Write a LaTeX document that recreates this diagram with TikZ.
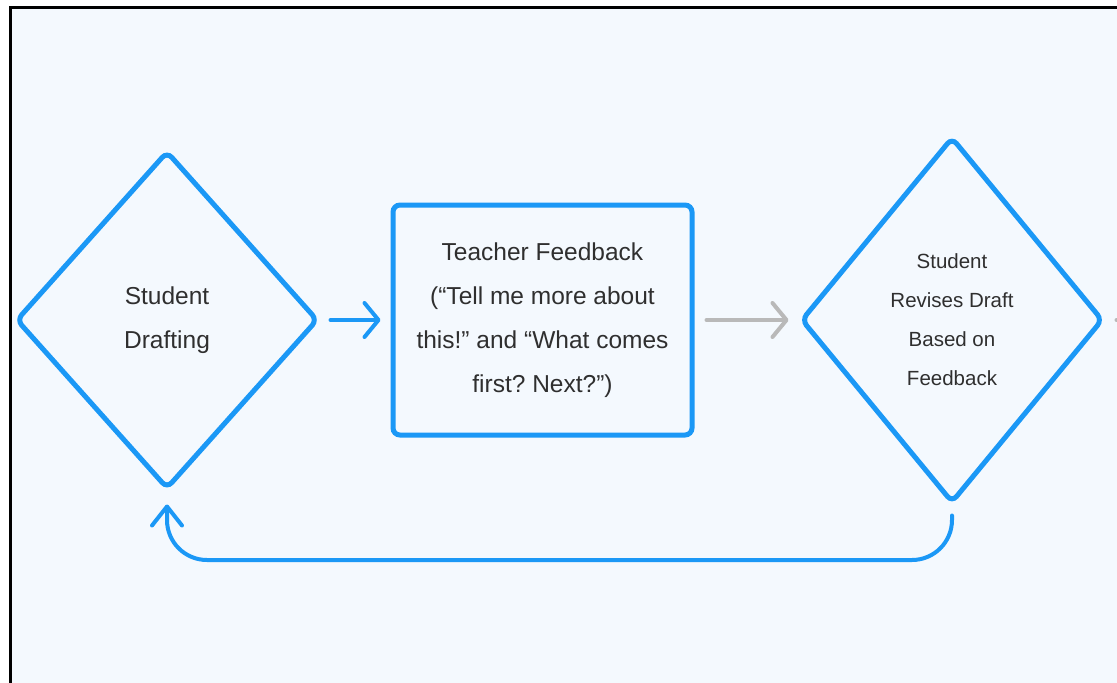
\documentclass[tikz,border=0pt]{standalone}
\usepackage{fontspec}
\setmainfont{Liberation Sans}
\usepackage{tikz}
\usetikzlibrary{arrows.meta}
\usetikzlibrary{shapes.geometric,positioning}
\frenchspacing

\definecolor{flowblue}{HTML}{1B98F6}
\definecolor{flowgray}{HTML}{B9B9B9}
\definecolor{paper}{HTML}{F4F9FE}
\definecolor{ink}{HTML}{2F2F2F}

\tikzset{
    stepdiamond/.style={diamond, draw=flowblue, line width=5pt, rounded corners=7pt,
        inner sep=0pt, align=center, text=ink},
    stepbox/.style={rectangle, draw=flowblue, line width=5pt, rounded corners=7pt,
        inner sep=0pt, align=center, text=ink,
        minimum width=299pt, minimum height=230pt},
    flow/.style={line width=4pt, line cap=round,
        -{Straight Barb[length=14pt,width=34pt,round]}},
}

\begin{document}
\begin{tikzpicture}[x=1pt,y=-1pt]
        \useasboundingbox (0,0) rectangle (1117,683);
        % frame
        \filldraw[fill=paper, draw=black, line width=3pt] (10,7) rectangle (1150,720);

        \node[stepdiamond, minimum width=302pt, minimum height=338pt,
            font=\fontsize{24.5}{44}\selectfont] (draft) at (167,320)
            {Student\\ Drafting};
        \node[stepbox, font=\fontsize{24.5}{44}\selectfont] (feedback) at (542.5,320)
            {Teacher Feedback\\ (“Tell me more about\\ this!” and “What comes\\ first? Next?”)};
        \node[stepdiamond, minimum width=302pt, minimum height=366pt,
            font=\fontsize{20.5}{39}\selectfont] (revise) at (952,320)
            {Student\\ Revises Draft\\ Based on\\ Feedback};
        \coordinate (offpage) at (1150,320);

        \draw[flow, draw=flowblue, shorten <=10pt, shorten >=10pt] (draft.east) -- (feedback.west);
        \draw[flow, draw=flowgray, shorten <=12pt, shorten >=10pt] (feedback.east) -- (revise.west);
        \draw[line width=4pt, line cap=round, draw=flowgray, shorten <=11pt] (revise.east) -- (offpage);

        % back to drafting
        \draw[line width=4pt, line cap=round, draw=flowblue, rounded corners=40pt,
            -{Straight Barb[length=19pt,width=30pt,round]},
            shorten <=10pt, shorten >=13pt]
            (revise.south) -- (revise.south |- 0,560) -- (draft.south |- 0,560) -- (draft.south);
    \end{tikzpicture}
\end{document}
